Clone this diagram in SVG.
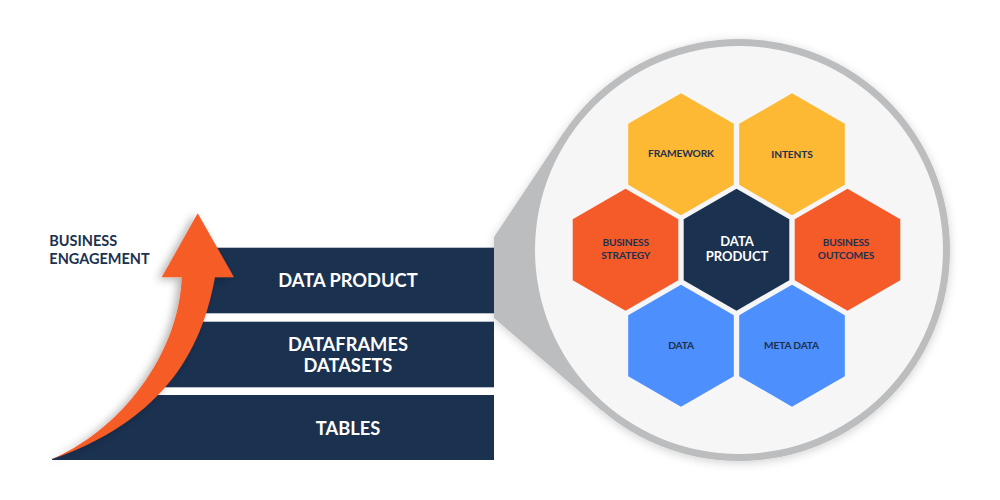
<svg xmlns="http://www.w3.org/2000/svg" width="1000" height="500" viewBox="0 0 1000 500">
<style>
.lbl{font-family:Lato,"Open Sans","Liberation Sans",sans-serif;font-weight:700;text-anchor:middle}
.bar{fill:#1B3150}
.bartxt{fill:#FFFFFF;font-size:18.3px}
.hx{font-size:10.2px;fill:#1B3150;letter-spacing:-0.15px}
.hxw{font-size:13px;fill:#FFFFFF}
</style>
<defs>
<path id="hex" d="M0,-61 L52.8,-30.5 L52.8,30.5 L0,61 L-52.8,30.5 L-52.8,-30.5 Z"/>
<filter id="sh" x="-50%" y="-20%" width="200%" height="140%">
<feDropShadow dx="-4" dy="2" stdDeviation="4" flood-color="#000" flood-opacity="0.3"/>
</filter>
<filter id="csh" x="-10%" y="-10%" width="120%" height="120%">
<feDropShadow dx="0" dy="2" stdDeviation="5" flood-color="#000" flood-opacity="0.18"/>
</filter>
<clipPath id="barclip">
<path d="M198,200 L198,277 C192.5,337.5 155,420 52,459 L52,470 L500,470 L500,200 Z"/>
</clipPath>
</defs>

<g id="magnifier" filter="url(#csh)">
<polygon points="494,237 563.5,132.8 739,250 601.7,410.4 494,318" fill="#BCBDBF"/>
<circle cx="739" cy="250" r="211" fill="#BCBDBF"/>
<circle cx="739" cy="250" r="204" fill="#F6F6F6"/>
</g>

<g id="bars" clip-path="url(#barclip)">
<rect class="bar" x="40" y="247.7" width="454" height="65.6"/>
<rect class="bar" x="40" y="321.7" width="454" height="65.6"/>
<rect class="bar" x="40" y="395" width="454" height="65"/>
</g>

<g id="bar-data-product"><text class="lbl bartxt" x="348" y="287.3">DATA PRODUCT</text></g>
<g id="bar-dataframes"><text class="lbl bartxt" x="348" y="350.7">DATAFRAMES</text><text class="lbl bartxt" x="348" y="372.3">DATASETS</text></g>
<g id="bar-tables"><text class="lbl bartxt" x="348" y="435">TABLES</text></g>

<g id="arrow">
<path filter="url(#sh)" fill="#F55B28" d="M197.7,213.3 L234,277.3 L215,277.3 C205,330 180,415 52,459.3 C130,425 180,345 181.7,277.3 L161.7,277.3 Z"/>
</g>

<g id="business-engagement">
<text font-family="Lato,'Open Sans','Liberation Sans',sans-serif" font-weight="700" font-size="14.5" fill="#1B3150" x="49.3" y="245.7">BUSINESS</text>
<text font-family="Lato,'Open Sans','Liberation Sans',sans-serif" font-weight="700" font-size="14.5" fill="#1B3150" x="49.3" y="264">ENGAGEMENT</text>
</g>

<g id="hex-framework"><use href="#hex" x="681" y="154.3" fill="#FDB934"/><text class="lbl hx" x="681" y="157">FRAMEWORK</text></g>
<g id="hex-intents"><use href="#hex" x="792" y="154.3" fill="#FDB934"/><text class="lbl hx" x="792" y="157.5">INTENTS</text></g>
<g id="hex-business-strategy"><use href="#hex" x="625.5" y="249.7" fill="#F55B28"/><text class="lbl hx" x="625.7" y="245.7">BUSINESS</text><text class="lbl hx" x="625.7" y="259">STRATEGY</text></g>
<g id="hex-data-product"><use href="#hex" x="736.5" y="249.7" fill="#1B3150"/><text class="lbl hxw" x="737" y="245.7">DATA</text><text class="lbl hxw" x="737" y="261">PRODUCT</text></g>
<g id="hex-business-outcomes"><use href="#hex" x="847.5" y="249.7" fill="#F55B28"/><text class="lbl hx" x="846" y="245.7">BUSINESS</text><text class="lbl hx" x="846" y="259">OUTCOMES</text></g>
<g id="hex-data"><use href="#hex" x="681" y="345.7" fill="#4D8FFC"/><text class="lbl hx" x="681" y="349">DATA</text></g>
<g id="hex-meta-data"><use href="#hex" x="792" y="345.7" fill="#4D8FFC"/><text class="lbl hx" x="791.5" y="349">META DATA</text></g>
</svg>
